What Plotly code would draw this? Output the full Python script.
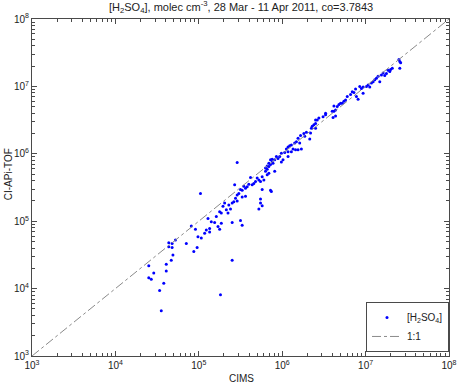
import plotly.graph_objects as go

# log10 of [H2SO4] (molec cm^-3)
cims_log10 = [
    5.02, 5.43, 4.91, 4.96, 4.64, 4.68, 4.72, 4.85, 4.64, 4.68, 4.98, 4.94, 4.69, 4.67, 4.61,
    4.40, 4.61, 4.46, 5.40, 4.40, 4.43, 4.58, 4.53, 5.26, 4.55,
    5.62, 5.70, 5.72, 5.76, 5.80, 5.82, 5.78, 5.74, 5.68, 5.66, 5.64, 5.60, 5.58, 5.56, 5.54,
    5.52, 5.50, 5.48, 5.46, 5.52, 5.56, 5.44, 5.46, 5.42, 5.40, 5.36, 5.38, 5.31, 5.29, 5.33,
    5.25, 5.27, 5.35, 5.76, 5.74, 5.76, 5.72, 5.21, 5.11, 5.15, 5.19, 5.27, 5.40, 5.50, 5.52,
    5.13, 5.09, 5.23, 5.25, 5.13, 4.99, 5.03, 5.07, 5.86,
    5.46, 5.86, 5.88, 5.84, 5.82, 5.80, 5.87, 5.74,
    6.62, 6.64, 6.61, 6.52, 6.49, 6.44, 6.40, 6.38, 6.36, 6.35, 6.40, 6.34, 6.29, 6.26, 6.27,
    6.22, 6.19, 6.17, 6.15, 6.11, 6.09, 6.07, 6.05, 6.13, 6.16, 6.11, 6.07, 6.03, 5.99, 5.97,
    5.95, 5.93, 5.91, 5.88, 5.89, 5.86, 5.84, 5.82, 5.84, 5.91, 5.99, 6.01, 6.07, 6.19, 6.23,
    6.21, 6.33,
    7.41, 7.42, 7.41, 7.32, 7.30, 7.27, 7.29, 7.25, 7.21, 7.23, 7.19, 7.15, 7.13, 7.11, 7.09,
    7.07, 7.03, 7.01, 7.05, 6.97, 6.93, 6.88, 6.86, 6.84, 6.82, 6.78, 6.89, 6.91, 6.76, 6.74,
    6.72, 6.70, 6.68, 6.66, 6.62, 6.64, 6.60, 6.52, 6.42, 6.40, 6.97, 6.95, 7.17, 7.40,
]
apitof_log10 = [
    5.41, 5.54, 4.93, 4.88, 4.68, 4.67, 4.72, 4.67, 4.62, 4.61, 4.61, 4.55, 4.50, 4.42, 4.36,
    4.34, 4.26, 4.23, 4.42, 4.16, 4.14, 4.08, 3.97, 3.91, 3.67,
    5.65, 5.64, 5.61, 5.66, 5.74, 5.69, 5.61, 5.59, 5.59, 5.56, 5.54, 5.55, 5.51, 5.49, 5.52,
    5.46, 5.47, 5.41, 5.39, 5.36, 5.37, 5.34, 5.30, 5.29, 5.27, 5.24, 5.18, 5.27, 5.22, 5.17,
    5.14, 5.12, 5.12, 5.47, 5.33, 5.23, 5.18, 5.07, 5.04, 4.99, 4.98, 4.97, 4.98, 5.01, 4.94,
    4.89, 4.87, 4.92, 4.88, 4.84, 4.77, 4.75, 4.82, 5.46,
    5.87, 5.91, 5.88, 5.86, 5.82, 5.79, 5.44, 5.27,
    6.63, 6.56, 6.54, 6.58, 6.55, 6.53, 6.50, 6.43, 6.41, 6.38, 6.38, 6.31, 6.32, 6.30, 6.26,
    6.27, 6.23, 6.18, 6.16, 6.13, 6.12, 6.10, 6.07, 6.07, 6.06, 6.03, 6.03, 6.02, 6.01, 5.96,
    5.93, 5.96, 5.91, 5.92, 5.86, 5.84, 5.81, 5.77, 5.71, 5.74, 5.88, 5.91, 5.96, 6.06, 6.07,
    6.16, 6.22,
    7.37, 7.35, 7.27, 7.27, 7.25, 7.24, 7.22, 7.19, 7.20, 7.16, 7.17, 7.15, 7.12, 7.10, 7.07,
    7.05, 7.02, 7.00, 6.99, 6.99, 7.00, 6.96, 6.91, 6.92, 6.88, 6.85, 6.85, 6.81, 6.80, 6.78,
    6.75, 6.75, 6.73, 6.70, 6.71, 6.65, 6.63, 6.60, 6.50, 6.45, 6.90, 6.97, 7.07, 7.40,
]
one_to_one = [1e3, 1e8]
decades = [3, 4, 5, 6, 7, 8]

cims = [10 ** v for v in cims_log10]
apitof = [10 ** v for v in apitof_log10]

FONT = "Liberation Sans, Arial, Helvetica, sans-serif"
AX = "#4a4a4a"

fig = go.Figure()
fig.add_trace(go.Scatter(
    x=cims, y=apitof, mode="markers",
    marker=dict(color="#0000ff", size=3, line=dict(width=0)),
    name="[H<sub>2</sub>SO<sub>4</sub>]",
))
fig.add_trace(go.Scatter(
    x=one_to_one, y=one_to_one, mode="lines",
    line=dict(color="#8a8a8a", width=1, dash="dashdot"),
    name="1:1",
))

tickvals = [10 ** d for d in decades]
ticktext = [f"10<sup>{d}</sup>" for d in decades]
minor_vals = [k * 10 ** d for d in decades[:-1] for k in range(2, 10)]

axis_common = dict(
    type="log", tickvals=tickvals, ticktext=ticktext,
    showline=True, linecolor=AX, linewidth=1, mirror="ticks",
    ticks="inside", ticklen=5, tickcolor=AX, tickwidth=1,
    showgrid=False, zeroline=False,
    tickfont=dict(family=FONT, size=10, color="#222"),
    minor=dict(tickvals=minor_vals, ticks="inside", ticklen=3, tickcolor=AX, showgrid=False),
)
fig.update_xaxes(range=[3, 8], **axis_common)
fig.update_yaxes(range=[3, 8], **axis_common)

fig.update_layout(
    width=466, height=386,
    margin=dict(l=32, r=9, t=19, b=30),
    paper_bgcolor="white", plot_bgcolor="white",
    font=dict(family=FONT, size=10, color="#222"),
    showlegend=True,
    legend=dict(
        x=1, y=0.012, xanchor="right", yanchor="bottom",
        bordercolor=AX, borderwidth=1, bgcolor="white",
        font=dict(family=FONT, size=10, color="#222"),
        itemwidth=30, tracegroupgap=0,
    ),
    annotations=[
        dict(text="[H<sub>2</sub>SO<sub>4</sub>], molec cm<sup>-3</sup>, 28 Mar - 11 Apr 2011, co=3.7843",
             x=0.5, y=1.036, xref="paper", yref="paper", xanchor="center", yanchor="middle",
             showarrow=False, font=dict(family=FONT, size=11, color="#222")),
        dict(text="CIMS", x=0.503, y=-0.068, xref="paper", yref="paper",
             xanchor="center", yanchor="middle", showarrow=False,
             font=dict(family=FONT, size=10, color="#222")),
        dict(text="CI-APi-TOF", x=-0.057, y=0.54, xref="paper", yref="paper",
             xanchor="center", yanchor="middle", textangle=-90, showarrow=False,
             font=dict(family=FONT, size=10, color="#222")),
    ],
)

fig.write_html("out.html")
